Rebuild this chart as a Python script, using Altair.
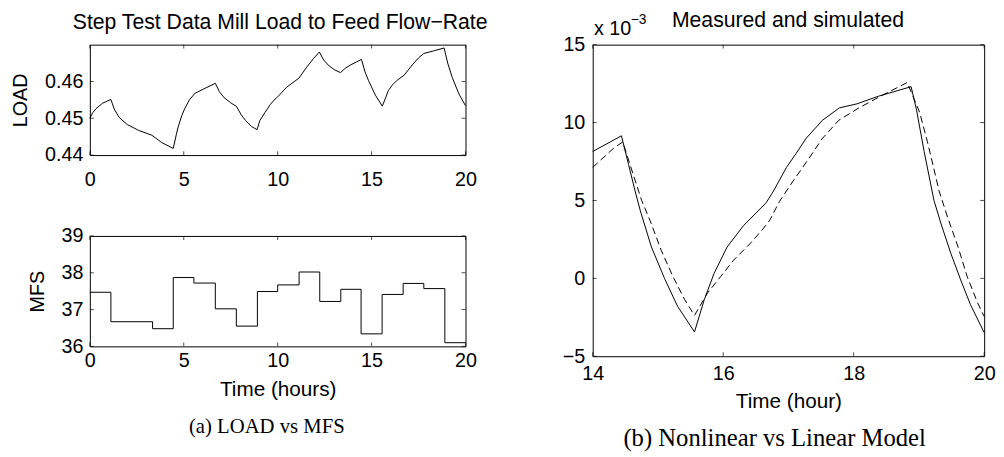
import altair as alt
import pandas as pd

# ---------------- data ----------------
load_t = [0, 0.15, 0.33, 0.68, 1.12, 1.3, 1.55, 1.99, 2.6, 3.3, 3.83, 4.44, 4.6,
          4.7, 4.9, 5.05, 5.3, 5.6, 6.68, 6.9, 7.15, 7.5, 7.81, 8.05, 8.29, 8.6,
          8.9, 9.05, 9.33, 9.6, 9.86, 10.0, 10.47, 11.13, 11.52, 11.9, 12.22,
          12.45, 12.74, 13.05, 13.35, 13.6, 13.88, 14.2, 14.46, 14.65, 14.84,
          15.2, 15.57, 15.75, 15.89, 16.1, 16.33, 16.73, 17.2, 17.5, 17.78, 18.3,
          18.86, 19.05, 19.3, 19.65, 20]
load_v = [0.4500, 0.4515, 0.4526, 0.4541, 0.4551, 0.4525, 0.4503, 0.4483, 0.4467,
          0.4454, 0.4434, 0.4418, 0.4455, 0.4476, 0.4508, 0.4526, 0.4550, 0.4568,
          0.4595, 0.4572, 0.4556, 0.4542, 0.4532, 0.4510, 0.4494, 0.4478, 0.4469,
          0.4494, 0.4516, 0.4537, 0.4552, 0.4558, 0.4584, 0.4609, 0.4637, 0.4662,
          0.4680, 0.4658, 0.4642, 0.4631, 0.4624, 0.4636, 0.4645, 0.4653, 0.4660,
          0.4626, 0.4602, 0.4563, 0.4533, 0.4556, 0.4575, 0.4590, 0.4602, 0.4617,
          0.4647, 0.4664, 0.4676, 0.4683, 0.4691, 0.4650, 0.4610, 0.4566, 0.4534]

mfs_t = [0, 1.12, 3.34, 4.44, 5.54, 6.68, 7.8, 8.92, 10.0, 11.14, 12.24, 13.36,
         14.44, 15.56, 16.68, 17.78, 18.9, 20]
mfs_v = [37.47, 36.67, 36.48, 37.87, 37.72, 37.02, 36.55, 37.49, 37.67, 38.02,
         37.22, 37.55, 36.34, 37.41, 37.71, 37.57, 36.10, 36.10]

# right panel, values in units of 1e-3
meas_t = [14, 14.44, 14.55, 14.65, 14.73, 14.9, 15.1, 15.3, 15.56, 15.71, 15.86,
          16.06, 16.31, 16.66, 16.77, 16.97, 17.12, 17.27, 17.52, 17.78, 18.05,
          18.38, 18.88, 18.96, 19.08, 19.23, 19.34, 19.49, 19.64, 19.79, 20]
meas_v = [8.14, 9.15, 7.3, 5.6, 4.33, 2.01, 0.0, -1.79, -3.44, -1.37, 0.32,
          2.01, 3.38, 4.86, 5.6, 7.12, 8.03, 8.98, 10.14, 10.94, 11.2,
          11.69, 12.3, 10.88, 8.14, 5.01, 3.49, 1.59, -0.1, -1.69, -3.48]

sim_t = [14, 14.33, 14.46, 14.75, 14.88, 15.05, 15.23, 15.41, 15.56, 15.76, 15.96,
         16.16, 16.41, 16.61, 16.71, 16.86, 17.07, 17.3, 17.52, 17.77, 18.08,
         18.43, 18.82, 19.01, 19.13, 19.31, 19.44, 19.6, 19.74, 19.9, 20]
sim_v = [7.12, 8.39, 8.75, 5.0, 3.7, 1.8, 0.11, -1.37, -2.38, -0.94, 0.11,
         1.17, 2.22, 3.17, 3.7, 4.92, 6.24, 7.61, 8.98, 10.14, 10.94,
         11.73, 12.57, 10.67, 8.77, 5.6, 3.91, 2.01, 0.11, -1.58, -2.45]

x_ticks_left = [0, 5, 10, 15, 20]
load_ticks = [0.44, 0.45, 0.46]
mfs_ticks = [36, 37, 38, 39]
x_ticks_right = [14, 16, 18, 20]
y_ticks_right = [-5, 0, 5, 10, 15]

title_left = ["Step Test Data Mill Load to Feed Flow\u2212Rate"]
title_right = ["Measured and simulated"]
caption_a = ["(a) LOAD vs MFS"]
caption_b = ["(b) Nonlinear vs Linear Model"]
exp_base = ["x 10"]
exp_sup = ["\u22123"]

# ---------------- layout constants ----------------
W1, H1, GAP1 = 381, 112, 82
W2, H2, GAP2 = 397, 316, 73
FONT = "Liberation Sans"
SERIF = "Liberation Serif"
FS = 20      # tick labels
TFS = 21     # x axis titles
YTFS = 20    # y axis titles
HFS = 21.5   # panel titles


def axis(values, title=None, fmt=None, label_pad=6, title_pad=8, tsize=TFS):
    kw = dict(values=values, ticks=False, domain=False, grid=False,
              labelFontSize=FS, labelFont=FONT, labelColor="black",
              labelPadding=label_pad, labelFlush=False, labelOverlap=False,
              labelBound=False, titleFont=FONT, titleFontSize=tsize,
              titleFontWeight="normal", titleColor="black",
              titlePadding=title_pad, title=title)
    if fmt is not None:
        kw["format"] = fmt
    return alt.Axis(**kw)


def inner_ticks(xvals, yvals, W, H, xscale, yscale, xaxis, yaxis):
    dx = pd.DataFrame({"t": xvals})
    dy = pd.DataFrame({"v": yvals})
    layers = []
    for yp in (H - 2, 2):
        layers.append(alt.Chart(dx).mark_tick(color="black", size=4, thickness=1,
                                              orient="vertical").encode(
            x=alt.X("t:Q", scale=xscale, axis=xaxis), y=alt.value(yp)))
    for xp in (2, W - 2):
        layers.append(alt.Chart(dy).mark_tick(color="black", size=4, thickness=1,
                                              orient="horizontal").encode(
            y=alt.Y("v:Q", scale=yscale, axis=yaxis), x=alt.value(xp)))
    return layers


def label(text_list, x, y, size=HFS, font=FONT, align="center"):
    df = pd.DataFrame({"s": text_list})
    return alt.Chart(df).mark_text(font=font, fontSize=size, color="black",
                                   align=align, baseline="alphabetic").encode(
        x=alt.value(x), y=alt.value(y), text="s:N")


# ---------------- top-left: LOAD ----------------
xs1 = alt.Scale(domain=[0, 20], nice=False)
ys_load = alt.Scale(domain=[0.44, 0.47], nice=False, zero=False)
ax_top_x = axis(x_ticks_left, label_pad=15)
ax_top_y = axis(load_ticks, title="LOAD", fmt=".2f", label_pad=7, title_pad=14,
                tsize=YTFS)
df_load = pd.DataFrame({"t": load_t, "v": load_v})
load_line = alt.Chart(df_load).mark_line(color="black", strokeWidth=1).encode(
    x=alt.X("t:Q", scale=xs1, axis=ax_top_x),
    y=alt.Y("v:Q", scale=ys_load, axis=ax_top_y),
)
top = alt.layer(load_line,
                *inner_ticks(x_ticks_left, load_ticks, W1, H1, xs1, ys_load,
                             ax_top_x, ax_top_y),
                label(title_left, 193, -16.3)).properties(width=W1, height=H1)

# ---------------- bottom-left: MFS ----------------
ys_mfs = alt.Scale(domain=[36, 39], nice=False, zero=False)
ax_bot_x = axis(x_ticks_left, title="Time (hours)", label_pad=4, title_pad=8.5)
ax_bot_y = axis(mfs_ticks, title="MFS", label_pad=7, title_pad=14, tsize=YTFS)
df_mfs = pd.DataFrame({"t": mfs_t, "v": mfs_v})
mfs_line = alt.Chart(df_mfs).mark_line(color="black", strokeWidth=1,
                                       interpolate="step-after").encode(
    x=alt.X("t:Q", scale=xs1, axis=ax_bot_x),
    y=alt.Y("v:Q", scale=ys_mfs, axis=ax_bot_y),
)
bottom = alt.layer(mfs_line,
                   *inner_ticks(x_ticks_left, mfs_ticks, W1, H1, xs1, ys_mfs,
                                ax_bot_x, ax_bot_y),
                   label(caption_a, 179.5, 199.5, size=21, font=SERIF)).properties(
    width=W1, height=H1)

left = alt.vconcat(top, bottom, spacing=GAP1, bounds="flush")

# ---------------- right ----------------
xs2 = alt.Scale(domain=[14, 20], nice=False)
ys2 = alt.Scale(domain=[-5, 15], nice=False, zero=False)
ax_r_x = axis(x_ticks_right, title="Time (hour)", label_pad=8, title_pad=6.5)
ax_r_y = axis(y_ticks_right, label_pad=8)
df_meas = pd.DataFrame({"t": meas_t, "v": meas_v})
df_sim = pd.DataFrame({"t": sim_t, "v": sim_v})
meas_line = alt.Chart(df_meas).mark_line(color="black", strokeWidth=1).encode(
    x=alt.X("t:Q", scale=xs2, axis=ax_r_x),
    y=alt.Y("v:Q", scale=ys2, axis=ax_r_y),
)
sim_line = alt.Chart(df_sim).mark_line(color="black", strokeWidth=1,
                                       strokeDash=[7, 4]).encode(
    x=alt.X("t:Q", scale=xs2, axis=ax_r_x),
    y=alt.Y("v:Q", scale=ys2, axis=ax_r_y))
right = alt.layer(meas_line, sim_line,
                  *inner_ticks(x_ticks_right, y_ticks_right, W2, H2, xs2, ys2,
                               ax_r_x, ax_r_y),
                  label(title_right, 198, -17.7),
                  label(exp_base, 1.3, -10, size=20, align="left"),
                  label(exp_sup, 38.5, -21, size=14, align="left"),
                  label(caption_b, 184.5, H2 + 91.5, size=25, font=SERIF)).properties(
    width=W2, height=H2)

chart = alt.hconcat(left, right, spacing=GAP2).properties(
    padding={"left": 2, "top": -2, "right": 0, "bottom": 0}
).configure_view(stroke="black", strokeWidth=1)

chart.save("out.html", embed_options={"renderer": "svg", "actions": False})
